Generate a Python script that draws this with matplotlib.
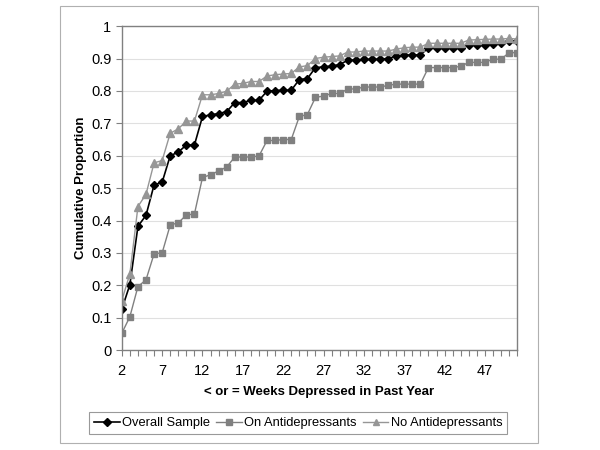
import matplotlib.pyplot as plt
from matplotlib.patches import Rectangle

plt.rcParams['font.family'] = ['Liberation Sans', 'DejaVu Sans']

weeks = list(range(2, 52))

overall = [0.126, 0.202, 0.382, 0.416, 0.510, 0.518, 0.600, 0.611, 0.633, 0.633,
           0.721, 0.726, 0.730, 0.736, 0.764, 0.764, 0.771, 0.771, 0.799, 0.801,
           0.802, 0.802, 0.835, 0.838, 0.872, 0.874, 0.877, 0.881, 0.895, 0.895,
           0.897, 0.897, 0.898, 0.900, 0.907, 0.910, 0.911, 0.911, 0.933, 0.933,
           0.932, 0.932, 0.932, 0.942, 0.942, 0.942, 0.946, 0.947, 0.954, 0.954]

on_ad = [0.052, 0.103, 0.196, 0.217, 0.297, 0.300, 0.386, 0.393, 0.417, 0.420,
         0.533, 0.541, 0.553, 0.565, 0.596, 0.596, 0.596, 0.599, 0.647, 0.647,
         0.650, 0.650, 0.721, 0.727, 0.780, 0.784, 0.792, 0.792, 0.806, 0.806,
         0.812, 0.812, 0.812, 0.817, 0.821, 0.821, 0.821, 0.821, 0.872, 0.872,
         0.872, 0.872, 0.876, 0.888, 0.888, 0.888, 0.898, 0.898, 0.918, 0.918]

no_ad = [0.153, 0.235, 0.443, 0.481, 0.578, 0.585, 0.669, 0.683, 0.707, 0.707,
         0.788, 0.788, 0.792, 0.799, 0.821, 0.823, 0.829, 0.829, 0.846, 0.850,
         0.852, 0.854, 0.874, 0.878, 0.900, 0.904, 0.906, 0.908, 0.920, 0.920,
         0.923, 0.923, 0.923, 0.923, 0.929, 0.933, 0.935, 0.935, 0.947, 0.947,
         0.947, 0.947, 0.947, 0.957, 0.958, 0.959, 0.960, 0.960, 0.962, 0.960]

tick_labels = [2, 7, 12, 17, 22, 27, 32, 37, 42, 47]

fig = plt.figure(figsize=(6, 4.5), dpi=100)
ax = fig.add_axes([0.203, 0.222, 0.659, 0.72])

# outer chart border
fig.patches.append(Rectangle((0.1, 0.015), 0.797, 0.972, transform=fig.transFigure,
                             fill=False, edgecolor='#b0b0b0', linewidth=0.8))

ax.plot(weeks, overall, color='black', marker='D', markersize=4.5, linewidth=1.2,
        label='Overall Sample')
ax.plot(weeks, on_ad, color='#808080', marker='s', markersize=5, linewidth=1,
        label='On Antidepressants')
ax.plot(weeks, no_ad, color='#969696', marker='^', markersize=5.5, linewidth=1,
        label='No Antidepressants')

ax.set_xlim(2, 51)
ax.set_ylim(0, 1)
ax.set_yticks([i / 10 for i in range(11)])
ax.set_yticklabels(['0', '0.1', '0.2', '0.3', '0.4', '0.5', '0.6', '0.7', '0.8', '0.9', '1'])
ax.set_xticks(weeks, minor=True)
ax.set_xticks(tick_labels)
ax.set_xticklabels([str(t) for t in tick_labels])
ax.tick_params(axis='both', labelsize=10.5, color='#808080', length=4, width=0.8, direction='out')
ax.tick_params(axis='x', which='minor', length=4, color='#808080', width=0.8)
ax.tick_params(axis='x', which='major', pad=6)
ax.grid(axis='y', color='#e0e0e0', linewidth=0.8)
ax.set_axisbelow(True)
for s in ax.spines.values():
    s.set_color('#808080')
    s.set_linewidth(1)

ax.set_xlabel('< or = Weeks Depressed in Past Year', fontsize=9.5, fontweight='bold', labelpad=6)
ax.set_ylabel('Cumulative Proportion', fontsize=9.5, fontweight='bold', labelpad=3)

leg = fig.legend(loc='center', bbox_to_anchor=(0.497, 0.06), ncol=3, fontsize=9.3,
                 frameon=True, fancybox=False, edgecolor='#808080', handlelength=2.0,
                 handletextpad=0.2, columnspacing=0.45, borderpad=0.35, markerscale=0.8)
leg.get_frame().set_linewidth(0.8)

fig.savefig('out.png', dpi=100)
